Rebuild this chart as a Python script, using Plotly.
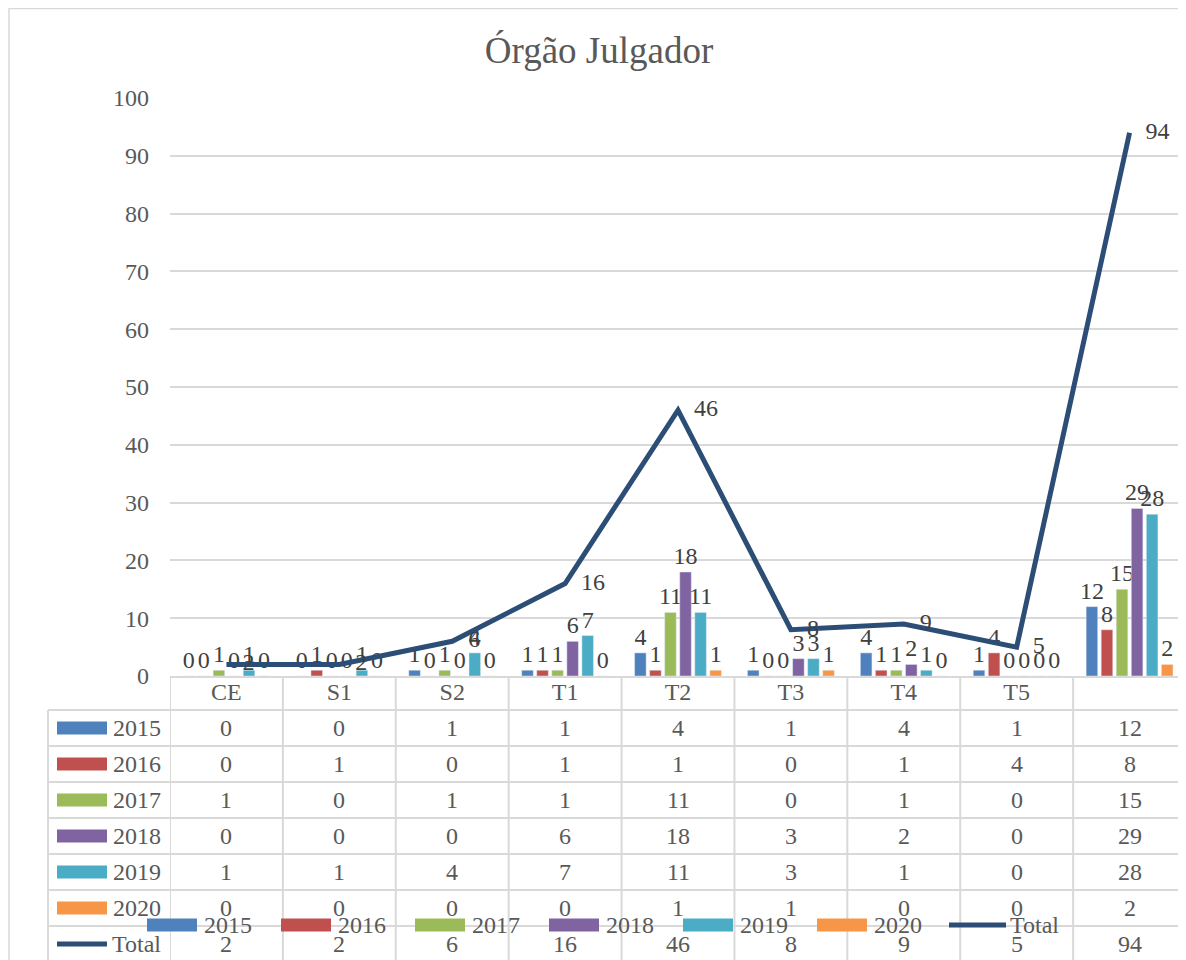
import plotly.graph_objects as go

# dados do gráfico
categorias = ["CE", "S1", "S2", "T1", "T2", "T3", "T4", "T5", ""]
anos = ["2015", "2016", "2017", "2018", "2019", "2020"]
v2015 = [0, 0, 1, 1, 4, 1, 4, 1, 12]
v2016 = [0, 1, 0, 1, 1, 0, 1, 4, 8]
v2017 = [1, 0, 1, 1, 11, 0, 1, 0, 15]
v2018 = [0, 0, 0, 6, 18, 3, 2, 0, 29]
v2019 = [1, 1, 4, 7, 11, 3, 1, 0, 28]
v2020 = [0, 0, 0, 0, 1, 1, 0, 0, 2]
total = [2, 2, 6, 16, 46, 8, 9, 5, 94]

series = [v2015, v2016, v2017, v2018, v2019, v2020]
cores = ["#4F81BD", "#C0504D", "#9BBB59", "#8064A2", "#4BACC6", "#F79646"]
cor_total = "#2C4D75"

FONTE = "Liberation Serif"
CINZA = "#595959"
ESCURO = "#404040"
GRADE = "#d9d9d9"
TAM = 24

# a página tem 8px de margem no body
OFF = 8
W, H = 1178, 952
ML, MR, MT, MB = 162, 0, 90, 284
PH = H - MT - MB
PW = W - ML - MR


def px(p):  # pixel horizontal da página -> paper
    return (p - OFF - ML) / PW


def py(p):  # pixel vertical da página -> paper
    return (H - MB - (p - OFF)) / PH


x = list(range(len(categorias)))

fig = go.Figure()
for nome, vals, cor in zip(anos, series, cores):
    fig.add_trace(go.Bar(
        x=x, y=vals, name=nome, marker_color=cor,
        text=vals, textposition="outside", constraintext="none",
        textfont=dict(family=FONTE, size=TAM, color=ESCURO),
        cliponaxis=False,
    ))

fig.add_trace(go.Scatter(
    x=x, y=total, name="Total", mode="lines",
    line=dict(color=cor_total, width=5),
))
fig.add_trace(go.Scatter(
    x=x, y=total, mode="markers+text",
    marker=dict(size=24, color="rgba(0,0,0,0)"),
    text=total, textposition="middle right",
    textfont=dict(family=FONTE, size=TAM, color=ESCURO),
    cliponaxis=False, hoverinfo="skip",
))

shapes = []
anots = []

# tabela de dados
linhas_y = [710 + 36 * i for i in range(7)] + [962]
centros_y = [728 + 36 * i for i in range(7)]
for yy in linhas_y:
    shapes.append(dict(type="line", xref="paper", yref="paper",
                       x0=px(48), x1=1.0, y0=py(yy), y1=py(yy),
                       line=dict(color=GRADE, width=2)))
for i in range(len(categorias) + 1):
    shapes.append(dict(type="line", xref="x", yref="paper",
                       x0=i - 0.5, x1=i - 0.5, y0=0, y1=py(970),
                       line=dict(color=GRADE, width=2)))
shapes.append(dict(type="line", xref="paper", yref="paper",
                   x0=px(48), x1=px(48), y0=py(710), y1=py(970),
                   line=dict(color=GRADE, width=2)))
# borda do gráfico
shapes.append(dict(type="rect", xref="paper", yref="paper",
                   x0=px(9), x1=px(1200), y0=py(8.5), y1=py(990),
                   line=dict(color=GRADE, width=1.5)))

nomes_linhas = anos + ["Total"]
valores_linhas = series + [total]
for r, (nome, vals) in enumerate(zip(nomes_linhas, valores_linhas)):
    yc = py(centros_y[r])
    if nome == "Total":
        shapes.append(dict(type="line", xref="paper", yref="paper",
                           x0=px(57), x1=px(107), y0=yc, y1=yc,
                           line=dict(color=cor_total, width=5)))
    else:
        shapes.append(dict(type="rect", xref="paper", yref="paper",
                           x0=px(57), x1=px(107), y0=py(centros_y[r] - 6.5),
                           y1=py(centros_y[r] + 6.5),
                           fillcolor=cores[r], line=dict(width=0)))
    anots.append(dict(xref="paper", yref="paper", x=px(163), y=yc,
                      text=nome, showarrow=False, xanchor="right",
                      yanchor="middle",
                      font=dict(family=FONTE, size=TAM, color=CINZA)))
    for i, v in enumerate(vals):
        anots.append(dict(xref="x", yref="paper", x=i, y=yc, text=str(v),
                          showarrow=False, xanchor="center", yanchor="middle",
                          font=dict(family=FONTE, size=TAM, color=CINZA)))

# legenda (sobreposta à tabela, como no original)
leg_x = [147, 281, 415, 549, 683, 817, 949]
leg_y = 925
for k, nome in enumerate(nomes_linhas):
    x0 = leg_x[k]
    if nome == "Total":
        shapes.append(dict(type="line", xref="paper", yref="paper",
                           x0=px(x0), x1=px(x0 + 57), y0=py(leg_y), y1=py(leg_y),
                           line=dict(color=cor_total, width=5)))
        tx = x0 + 59
    else:
        shapes.append(dict(type="rect", xref="paper", yref="paper",
                           x0=px(x0), x1=px(x0 + 50),
                           y0=py(leg_y - 6.5), y1=py(leg_y + 6.5),
                           fillcolor=cores[k], line=dict(width=0)))
        tx = x0 + 55
    anots.append(dict(xref="paper", yref="paper", x=px(tx), y=py(leg_y),
                      text=nome, showarrow=False, xanchor="left",
                      yanchor="middle",
                      font=dict(family=FONTE, size=TAM, color=CINZA)))

fig.update_layout(
    width=W, height=H,
    margin=dict(l=ML, r=MR, t=MT, b=MB),
    paper_bgcolor="white", plot_bgcolor="white",
    showlegend=False,
    title=dict(text="Órgão Julgador", x=(599 - OFF) / W, xref="container",
               y=1 - (50 - OFF) / H, yref="container",
               xanchor="center", yanchor="middle",
               font=dict(family=FONTE, size=37, color=CINZA)),
    barmode="group", bargap=0.2, bargroupgap=0.23,
    font=dict(family=FONTE, size=TAM, color=CINZA),
    xaxis=dict(range=[-0.5, len(categorias) - 0.5], tickvals=x,
               ticktext=categorias, showgrid=False, zeroline=False,
               showline=True, linecolor=GRADE, linewidth=2,
               ticks="", ticklabelstandoff=-7,
               tickfont=dict(family=FONTE, size=TAM, color=CINZA)),
    yaxis=dict(range=[0, 100], dtick=10, showgrid=True, gridcolor=GRADE,
               gridwidth=1.5, zeroline=False, showline=False,
               ticks="", ticklabelstandoff=20,
               tickfont=dict(family=FONTE, size=TAM, color=CINZA)),
    shapes=shapes, annotations=anots,
)

fig.write_html("out.html")
